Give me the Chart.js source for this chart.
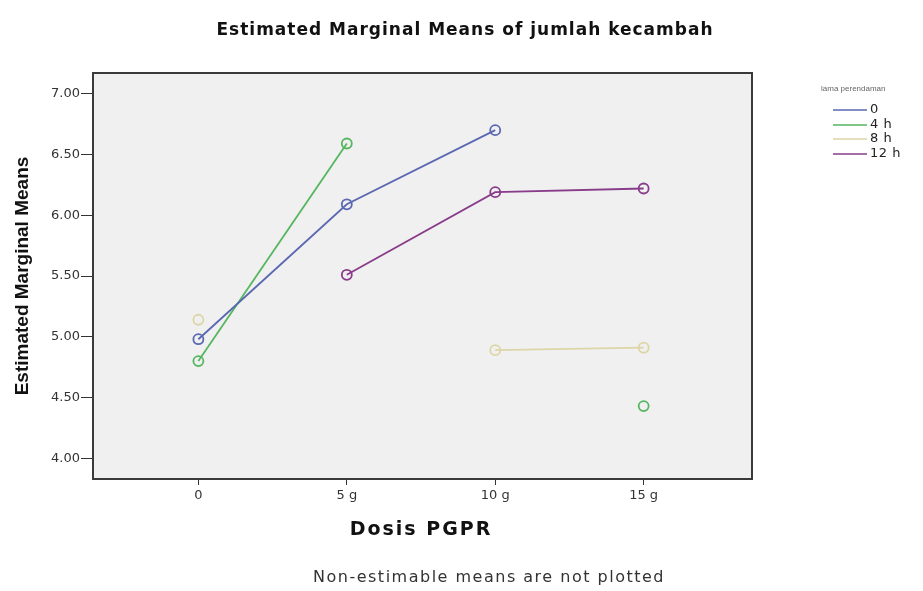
<!DOCTYPE html>
<html>
<head>
<meta charset="utf-8">
<script src="https://cdn.jsdelivr.net/npm/chart.js@4"></script>
<style>
  html, body { margin: 0; padding: 0; background: #fff; }
  #wrap { width: 923px; height: 591px; }
</style>
</head>
<body>
<div id="wrap"><canvas id="emm"></canvas></div>
<script>
// dosis PGPR categories
const doses = ['0', '5 g', '10 g', '15 g'];
const yTicks = [4.0, 4.5, 5.0, 5.5, 6.0, 6.5, 7.0];

// estimated marginal means per lama perendaman (null = non-estimable)
const lama0 = [4.98, 6.09, 6.70, null];
const lama4 = [4.80, 6.59, null, 4.43];
const lama8 = [5.14, null, 4.89, 4.91];
const lama12 = [null, 5.51, 6.19, 6.22];

const seriesNames = ['0', '4 h', '8 h', '12 h'];
const seriesColors = ['#5a68b2', '#55b65f', '#dcd6a6', '#883c8a'];

function toPoints(values) {
  return values.map((v, i) => ({ x: i, y: v }));
}

const allSeries = [lama0, lama4, lama8, lama12];

// plot box background, frame, title, x title, legend, footnote
const decor = {
  id: 'decor',
  beforeDatasetsDraw(chart) {
    const { ctx, chartArea: a } = chart;
    ctx.save();
    ctx.fillStyle = '#f0f0f0';
    ctx.fillRect(a.left, a.top, a.right - a.left, a.bottom - a.top);
    ctx.restore();
  },
  afterDraw(chart) {
    const { ctx, chartArea: a } = chart;
    ctx.save();
    ctx.strokeStyle = '#3a3a3a';
    ctx.lineWidth = 2;
    ctx.strokeRect(a.left, a.top, a.right - a.left, a.bottom - a.top);

    ctx.fillStyle = '#111';
    ctx.textAlign = 'center';
    ctx.textBaseline = 'middle';
    ctx.letterSpacing = '1px';
    ctx.font = 'bold 17px "DejaVu Sans"';
    ctx.fillText('Estimated Marginal Means of jumlah kecambah', 465, 31);

    ctx.letterSpacing = '2px';
    ctx.font = 'bold 19px "DejaVu Sans"';
    ctx.fillText('Dosis PGPR', 421, 530);

    ctx.fillStyle = '#333';
    ctx.letterSpacing = '1.5px';
    ctx.font = '16px "DejaVu Sans"';
    ctx.fillText('Non-estimable means are not plotted', 489, 578);

    // legend
    ctx.textAlign = 'left';
    ctx.fillStyle = '#666';
    ctx.letterSpacing = '0px';
    ctx.font = '8px "Liberation Sans"';
    ctx.fillText('lama perendaman', 821, 89);
    const rows = [110, 125, 139, 154];
    ctx.letterSpacing = '0.5px';
    ctx.font = '13px "DejaVu Sans"';
    seriesNames.forEach((name, i) => {
      ctx.strokeStyle = seriesColors[i];
      ctx.lineWidth = 1.5;
      ctx.beginPath();
      ctx.moveTo(833, rows[i]);
      ctx.lineTo(867, rows[i]);
      ctx.stroke();
      ctx.fillStyle = '#222';
      ctx.fillText(name, 870, rows[i]);
    });
    ctx.letterSpacing = '0px';
    ctx.restore();
  }
};

new Chart(document.getElementById('emm'), {
  type: 'line',
  data: {
    datasets: allSeries.map((vals, i) => ({
      label: seriesNames[i],
      data: toPoints(vals),
      borderColor: seriesColors[i],
      backgroundColor: 'rgba(0,0,0,0)',
      borderWidth: 1.8,
      pointRadius: 5,
      pointBorderWidth: 1.8,
      pointBackgroundColor: 'rgba(0,0,0,0)',
      pointBorderColor: seriesColors[i],
      spanGaps: false,
      tension: 0,
    })),
  },
  options: {
    responsive: true,
    maintainAspectRatio: false,
    animation: false,
    layout: { padding: { top: 73, right: 923 - 752, bottom: 0, left: 0 } },
    plugins: {
      legend: { display: false },
      tooltip: { enabled: false },
    },
    scales: {
      x: {
        type: 'linear',
        min: -0.71,
        max: 3.73,
        afterFit(scale) { scale.height = 591 - 479; },
        afterBuildTicks(scale) { scale.ticks = doses.map((d, i) => ({ value: i })); },
        ticks: {
          callback: (v) => doses[v],
          color: '#333',
          font: { family: 'DejaVu Sans', size: 13 },
          padding: 3,
          maxRotation: 0,
        },
        grid: { drawOnChartArea: false, drawTicks: true, tickLength: 6, color: '#333' },
        border: { display: false },
      },
      y: {
        min: 3.83,
        max: 7.17,
        afterFit(scale) { scale.width = 93; },
        afterBuildTicks(scale) { scale.ticks = yTicks.map((v) => ({ value: v })); },
        ticks: {
          callback: (v) => v.toFixed(2),
          color: '#333',
          font: { family: 'DejaVu Sans', size: 13 },
          padding: 1,
        },
        grid: { drawOnChartArea: false, drawTicks: true, tickLength: 12, color: '#333' },
        border: { display: false },
        title: {
          display: true,
          text: 'Estimated Marginal Means',
          color: '#111',
          font: { family: 'Liberation Sans', size: 19, weight: 'bold' },
          padding: { top: 11, bottom: 0 },
        },
      },
    },
  },
  plugins: [decor],
});
</script>
</body>
</html>
